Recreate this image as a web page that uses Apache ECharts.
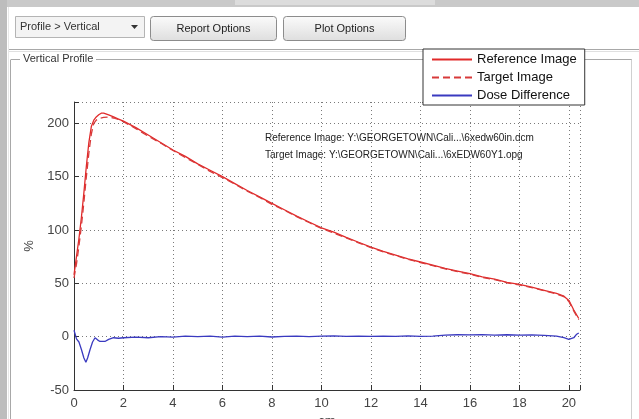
<!DOCTYPE html>
<html>
<head>
<meta charset="utf-8">
<title>Vertical Profile</title>
<script src="https://cdn.jsdelivr.net/npm/echarts@6/dist/echarts.min.js"></script>
<style>
  html, body { margin: 0; padding: 0; background: #ffffff; }
  #chart { width: 639px; height: 419px; }
</style>
</head>
<body>
<div id="chart"></div>
<script>
// Depth positions (cm) and relative dose (%) of the measured profiles
const refX = [0, 0.1, 0.2, 0.3, 0.4, 0.5, 0.6, 0.7, 0.8, 0.9, 1.0, 1.1, 1.2, 1.4, 1.6, 1.8, 2.0,
  2.5, 3, 3.5, 4, 4.5, 5, 5.5, 6, 6.5, 7, 7.5, 8, 8.5, 9, 9.5, 10, 10.5, 11, 11.5, 12, 12.5,
  13, 13.5, 14, 14.5, 15, 15.5, 16, 16.5, 17, 17.5, 18, 18.5, 19, 19.5, 19.8, 20.0, 20.2, 20.4];
const refY = [58, 75, 92, 112, 135, 160, 182, 197, 203, 206, 208, 209.5, 209.5, 208, 206, 204, 202,
  196, 189, 182, 175, 169, 162, 156, 150, 143.5, 137, 131, 125, 119, 113, 107.5, 102, 98, 93, 88.5, 84, 80,
  76.5, 73, 70, 67, 64, 61.5, 59, 56, 54, 51, 49, 46.5, 43.5, 40.5, 38, 34, 25, 17];

const tgtX = [0, 0.1, 0.2, 0.3, 0.4, 0.5, 0.6, 0.7, 0.8, 0.9, 1.0, 1.2, 1.4, 1.6, 1.8, 2.0,
  2.5, 3, 3.5, 4, 4.5, 5, 5.5, 6, 6.5, 7, 7.5, 8, 8.5, 9, 9.5, 10, 10.5, 11, 11.5, 12, 12.5,
  13, 13.5, 14, 14.5, 15, 15.5, 16, 16.5, 17, 17.5, 18, 18.5, 19, 19.5, 19.8, 20.0, 20.2, 20.4];
const tgtY = [55, 68, 85, 104, 126, 150, 172, 190, 200, 203, 204.5, 205.5, 206, 205, 203.5, 201.5,
  195, 188, 181.5, 174.5, 168, 161.5, 155, 149, 143, 136.5, 130.5, 124, 118.5, 112.5, 107, 101.5, 97, 92.5, 88, 83.5, 79.5,
  76, 72.5, 69.5, 66.5, 63.5, 61, 58.5, 55.5, 53.5, 50.5, 48.5, 46, 43, 40, 37.5, 33, 24, 16];

const diffX = [0, 0.05, 0.1, 0.2, 0.3, 0.4, 0.48, 0.55, 0.65, 0.75, 0.85, 0.95, 1.05, 1.25, 1.4, 1.6, 1.8, 2.0,
  2.5, 3, 3.5, 4, 4.5, 5, 5.5, 6, 6.5, 7, 7.5, 8, 8.5, 9, 9.5, 10, 10.5, 11, 11.5, 12, 12.5,
  13, 13.5, 14, 14.5, 15, 15.5, 16, 16.5, 17, 17.5, 18, 18.5, 19, 19.5, 19.8, 20.0, 20.2, 20.3, 20.4];
const diffY = [6, 2, -2, -5, -12, -20, -24, -20, -12, -5, -1, -3, -4.5, -4.5, -2.5, -1, -1.5, -1,
  -0.5, -1, 0, -0.5, 0.5, 0, 0.5, -0.5, 0.5, 0, 0.5, -0.3, 0.3, 0.5, 0, 0.5, 0.8, 0.3, 0.6, 0.2, 0.5,
  0.3, 0.8, 0.3, 0.6, 1.5, 1.8, 1.6, 2, 1.5, 1.8, 1.4, 1.7, 1.2, 0.5, -1, -2.5, -1, 2, 3.5];

const xTicks = [0, 2, 4, 6, 8, 10, 12, 14, 16, 18, 20];
const yTicks = [-50, 0, 50, 100, 150, 200];

const seriesNames = ['Reference Image', 'Target Image', 'Dose Difference'];
const noteLines = [
  'Reference Image: Y:\\GEORGETOWN\\Cali...\\6xedw60in.dcm',
  'Target Image: Y:\\GEORGETOWN\\Cali...\\6xEDW60Y1.opg'
];

const pairs = (xs, ys) => xs.map((x, i) => [x, ys[i]]);

const FONT = '"Liberation Sans", Arial, sans-serif';
const chart = echarts.init(document.getElementById('chart'), null, { renderer: 'canvas' });

// Window chrome: toolbar, selector, buttons and the group frame
const btnFill = new echarts.graphic.LinearGradient(0, 0, 0, 1, [
  { offset: 0, color: '#fbfbfb' }, { offset: 1, color: '#dedede' }
]);
const chrome = [
  { type: 'rect', shape: { x: 0, y: 0, width: 639, height: 7 }, style: { fill: '#c9c9c9' }, silent: true },
  { type: 'rect', shape: { x: 235, y: 0, width: 200, height: 5 }, style: { fill: '#dcdcdc' }, silent: true },
  { type: 'rect', shape: { x: 0, y: 0, width: 7, height: 419 }, style: { fill: '#bdbdbd' }, silent: true },
  { type: 'line', shape: { x1: 8.5, y1: 7, x2: 8.5, y2: 419 }, style: { stroke: '#e8e8e8', lineWidth: 1 }, silent: true },
  { type: 'line', shape: { x1: 9, y1: 49.5, x2: 639, y2: 49.5 }, style: { stroke: '#a8a8a8', lineWidth: 1 }, silent: true },
  { type: 'line', shape: { x1: 9, y1: 51.5, x2: 639, y2: 51.5 }, style: { stroke: '#e0e0e0', lineWidth: 1 }, silent: true },
  // selector
  { type: 'rect', shape: { x: 15.5, y: 16.5, width: 129, height: 21 }, style: { fill: '#f3f3f3', stroke: '#b4b4b4' }, silent: true },
  { type: 'text', x: 20, y: 27, style: { text: 'Profile > Vertical', font: '11px ' + FONT, fill: '#333', verticalAlign: 'middle' }, silent: true },
  { type: 'polygon', shape: { points: [[131, 25], [138, 25], [134.5, 29]] }, style: { fill: '#333' }, silent: true },
  // buttons
  { type: 'rect', shape: { x: 150.5, y: 16.5, width: 126, height: 24, r: 3 }, style: { fill: btnFill, stroke: '#8c8c8c' }, silent: true },
  { type: 'text', x: 213.5, y: 28.5, style: { text: 'Report Options', font: '11px ' + FONT, fill: '#222', align: 'center', verticalAlign: 'middle' }, silent: true },
  { type: 'rect', shape: { x: 283.5, y: 16.5, width: 122, height: 24, r: 3 }, style: { fill: btnFill, stroke: '#8c8c8c' }, silent: true },
  { type: 'text', x: 344.5, y: 28.5, style: { text: 'Plot Options', font: '11px ' + FONT, fill: '#222', align: 'center', verticalAlign: 'middle' }, silent: true },
  // group frame
  { type: 'line', shape: { x1: 11, y1: 59.5, x2: 20, y2: 59.5 }, style: { stroke: '#a8a8a8', lineWidth: 1 }, silent: true },
  { type: 'line', shape: { x1: 96, y1: 59.5, x2: 632, y2: 59.5 }, style: { stroke: '#a8a8a8', lineWidth: 1 }, silent: true },
  { type: 'line', shape: { x1: 10.5, y1: 59.5, x2: 10.5, y2: 419 }, style: { stroke: '#a8a8a8', lineWidth: 1 }, silent: true },
  { type: 'line', shape: { x1: 631.5, y1: 59.5, x2: 631.5, y2: 419 }, style: { stroke: '#d0d0d0', lineWidth: 1 }, silent: true },
  { type: 'text', x: 23, y: 59, style: { text: 'Vertical Profile', font: '11px ' + FONT, fill: '#333', verticalAlign: 'middle', backgroundColor: '#fff' }, silent: true },
  // file notes inside the plot
  { type: 'text', x: 265, y: 138, style: { text: noteLines[0], font: '10px ' + FONT, fill: '#222', verticalAlign: 'middle' }, silent: true },
  { type: 'text', x: 265, y: 155, style: { text: noteLines[1], font: '10px ' + FONT, fill: '#222', verticalAlign: 'middle' }, silent: true }
];

const axisText = { color: '#444', fontSize: 13, fontFamily: FONT };
const dotted = { show: true, lineStyle: { type: [1, 3], color: '#7a7a7a', width: 1 } };

chart.setOption({
  animation: false,
  backgroundColor: '#ffffff',
  graphic: { elements: chrome },
  grid: { left: 74, right: 59, top: 102, bottom: 29, containLabel: false, outerBoundsMode: 'none' },
  legend: {
    data: seriesNames,
    orient: 'vertical',
    left: 423, top: 49,
    itemWidth: 40, itemHeight: 12, itemGap: 5,
    padding: [4, 8, 3, 8],
    borderColor: '#333', borderWidth: 1, backgroundColor: '#ffffff',
    textStyle: { color: '#111', fontSize: 13, fontFamily: FONT },
    itemStyle: { opacity: 0, color: 'transparent', borderWidth: 0 },
    z: 10
  },
  xAxis: {
    type: 'value', min: 0, max: 20.45, interval: 2,
    name: 'cm', nameLocation: 'middle', nameGap: 24,
    nameTextStyle: { color: '#444', fontSize: 13, fontFamily: FONT },
    axisLine: { show: true, onZero: false, lineStyle: { color: '#333', width: 1 } },
    axisTick: { show: true, inside: true, length: 5, lineStyle: { color: '#333' } },
    axisLabel: Object.assign({ margin: 7, formatter: v => (xTicks.includes(v) ? String(v) : '') }, axisText),
    splitLine: dotted
  },
  yAxis: {
    type: 'value', min: -50, max: 220, interval: 50,
    name: '%', nameLocation: 'middle', nameGap: 37, nameRotate: 90,
    nameTextStyle: { color: '#444', fontSize: 13, fontFamily: FONT },
    axisLine: { show: true, onZero: false, lineStyle: { color: '#333', width: 1 } },
    axisTick: { show: true, inside: true, length: 5, lineStyle: { color: '#333' } },
    axisLabel: Object.assign({ margin: 5, formatter: v => (yTicks.includes(v) ? String(v) : '') }, axisText),
    splitLine: dotted
  },
  series: [
    {
      name: seriesNames[0], type: 'line', data: pairs(refX, refY),
      symbol: 'none', smooth: false, color: '#e12a2a',
      lineStyle: { color: '#e12a2a', width: 1.3 }
    },
    {
      name: seriesNames[1], type: 'line', data: pairs(tgtX, tgtY),
      symbol: 'none', smooth: false, color: '#d83a3a',
      lineStyle: { color: '#d83a3a', width: 1.3, type: [7, 4] }
    },
    {
      name: seriesNames[2], type: 'line', data: pairs(diffX, diffY),
      symbol: 'none', smooth: false, color: '#3a3ac0',
      lineStyle: { color: '#3a3ac0', width: 1.3 }
    }
  ]
});
</script>
</body>
</html>
